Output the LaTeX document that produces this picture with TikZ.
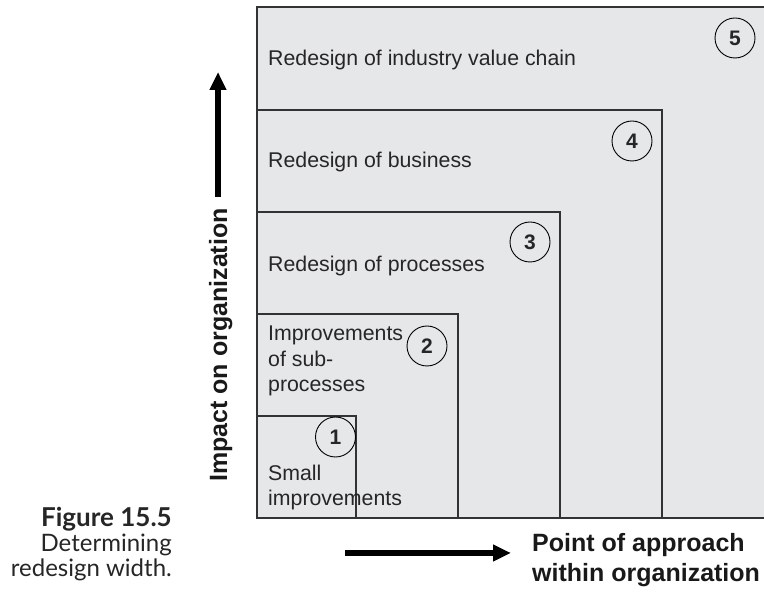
\documentclass[tikz,border=0pt]{standalone}
\usepackage{fontspec}
\setmainfont{Liberation Sans}
\newfontfamily\capfont{Lato}
\usetikzlibrary{arrows.meta}
\definecolor{boxfill}{HTML}{E6E7E9}
\definecolor{boxedge}{HTML}{333333}
\begin{document}
\begin{tikzpicture}[x=1pt,y=-1pt,
  boxline/.style={draw=boxedge, line width=1.2pt},
  lbl/.style={anchor=base west, inner sep=0pt, font=\fontsize{21.3}{25.5}\selectfont, align=left, text=black!85},
  num/.style={circle, draw=black, line width=0.9pt, minimum size=40pt, inner sep=0pt, font=\fontsize{21}{21}\selectfont\bfseries, text=black!85},
  axislbl/.style={inner sep=0pt, font=\fontsize{25}{30}\selectfont\bfseries, align=left, text=black!90},
  caplbl/.style={inner sep=0pt, anchor=base east, align=right, font=\capfont\fontsize{24}{25.5}\selectfont, text=black!85},
  bigarrow/.style={line width=6pt, -{Triangle[length=18pt,width=16pt]}}]
\useasboundingbox (0,0) rectangle (764,593);
% boxes
\fill[boxfill] (257,7) rectangle (770,518);
\draw[boxline] (770,7) -- (257,7) -- (257,518) -- (770,518);
\draw[boxline] (257,110) -| (662,518);
\draw[boxline] (257,212) -| (560,518);
\draw[boxline] (257,314) -| (458,518);
\draw[boxline] (257,416) -| (356,518);
% numbers
\node[num] (c5) at (735,38) {5};
\node[num] (c4) at (632,141) {4};
\node[num] (c3) at (530,242) {3};
\node[num] (c2) at (427,346) {2};
\node[num] (c1) at (335.5,437) {1};
% labels (multi-line nodes anchored at the baseline of their last line)
\node[lbl] (t5) at (268,66) {Redesign of industry value chain};
\node[lbl] (t4) at (268,168) {Redesign of business};
\node[lbl] (t3) at (268,272) {Redesign of processes};
\node[lbl] (t2) at (268,392) {Improvements\\of sub-\\processes};
\node[lbl] (t1) at (268,506) {Small\\improvements};
% axes
\coordinate (va1) at (218,197);
\coordinate (va2) at (218,72);
\draw[bigarrow] (va1) -- (va2);
\node[axislbl, rotate=90, anchor=base] (ya) at (227,345) {Impact on organization};
\coordinate (ha1) at (345,553);
\coordinate (ha2) at (511,553);
\draw[bigarrow] (ha1) -- (ha2);
\node[axislbl, anchor=base west] (xa) at (532,582) {Point of approach\\within organization};
% caption
\node[caplbl] (cap) at (172,577) {{\fontsize{26}{26}\selectfont\bfseries Figure 15.5}\\Determining\\redesign width.};
\end{tikzpicture}
\end{document}
